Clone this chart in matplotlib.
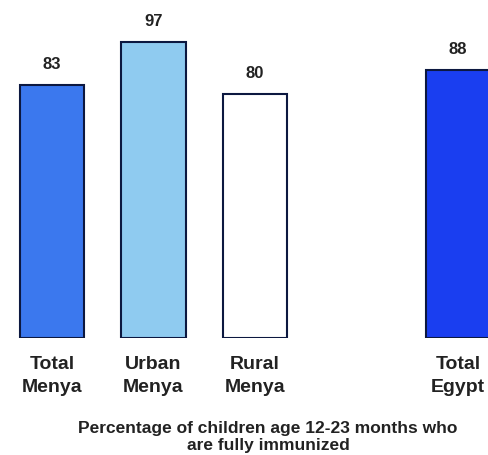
import matplotlib
matplotlib.use("Agg")
import matplotlib.pyplot as plt

categories = ["Total\nMenya", "Urban\nMenya", "Rural\nMenya", "Total\nEgypt"]
values = [83, 97, 80, 88]
positions = [0, 1, 2, 4]
colors = ["#3b78ee", "#8fcbf0", "#ffffff", "#1a3ef0"]
caption = "Percentage of children age 12-23 months who\nare fully immunized"

plt.rcParams['font.family'] = ['Liberation Sans', 'DejaVu Sans']
fig = plt.figure(figsize=(4.89, 4.55), dpi=100)
ax = fig.add_axes([0, (455 - 338) / 455, 1, 338 / 455])
ax.bar(positions, values, width=0.64, color=colors, edgecolor="#0c1840", linewidth=1.5)
ax.set_xlim(-52 / 101.5, (489 - 52) / 101.5)
ax.set_ylim(0, 338 / 3.05)
ax.axis("off")

for p, v in zip(positions, values):
    ax.text(p, v + 4.2, str(v), ha="center", va="bottom", fontsize=12, fontweight="bold", color="#222222")

for p, c in zip(positions, categories):
    ax.text(p, -6, c, ha="center", va="top", fontsize=14, fontweight="bold", color="#222222",
            linespacing=1.4)

fig.text(268 / 489, 1 - 437 / 455, caption, ha="center", va="center", fontsize=12.5,
         fontweight="bold", color="#222222", linespacing=1.2)

fig.savefig("out.png", dpi=100)
